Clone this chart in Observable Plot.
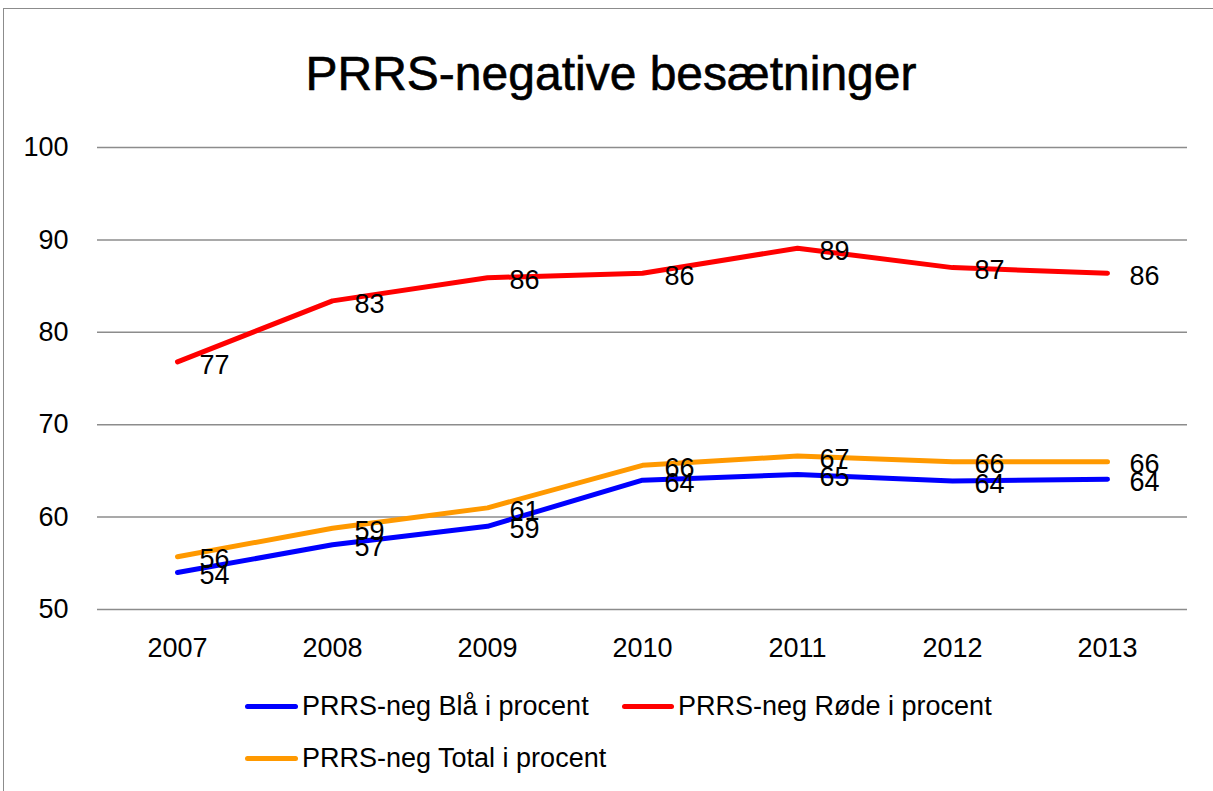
<!DOCTYPE html>
<html>
<head>
<meta charset="utf-8">
<script src="https://cdn.jsdelivr.net/npm/d3@7"></script>
<script src="https://cdn.jsdelivr.net/npm/@observablehq/plot@0.6"></script>
<style>
  html, body { margin: 0; padding: 0; background: #fff; }
  body { width: 1213px; height: 791px; overflow: hidden; position: relative; font-family: "Liberation Sans", Arial, sans-serif; }
  #frame { position: absolute; left: 3px; top: 8px; width: 1300px; height: 900px; border: 1.5px solid #8c8c8c; box-sizing: border-box; }
  #title { position: absolute; left: 0; width: 1222px; top: 46px; text-align: center; font-size: 48px; line-height: 56px; color: #000; -webkit-text-stroke: 0.6px #000; }
  #chart { position: absolute; left: 0; top: 0; }
  .leg { position: absolute; font-size: 27px; line-height: 32px; color: #000; white-space: nowrap; }
  .sw { position: absolute; height: 5px; border-radius: 3px; }
</style>
</head>
<body>
<div id="frame"></div>
<div id="chart"></div>
<div id="title">PRRS-negative besætninger</div>
<div id="legend"></div>
<script>
const years = ["2007", "2008", "2009", "2010", "2011", "2012", "2013"];
const blaa  = [54.0, 57.0, 59.0, 64.0, 64.6, 63.9, 64.1];
const roede = [76.8, 83.4, 85.9, 86.4, 89.1, 87.0, 86.4];
const total = [55.7, 58.8, 61.0, 65.6, 66.6, 66.0, 66.0];
const seriesNames = ["PRRS-neg Blå i procent", "PRRS-neg Røde i procent", "PRRS-neg Total i procent"];
const seriesColors = ["#0000ff", "#ff0000", "#ff9900"];
const yTicks = [50, 60, 70, 80, 90, 100];

const seriesValues = [blaa, roede, total];
const rows = [];
seriesValues.forEach((vals, s) => {
  vals.forEach((v, i) => rows.push({year: years[i], value: v, series: seriesNames[s]}));
});

const marks = [
  Plot.gridY(yTicks, {stroke: "#8c8c8c", strokeOpacity: 1, strokeWidth: 1.5}),
  Plot.axisY(yTicks, {tickSize: 0, tickPadding: 29, fontSize: 27, fill: "#000", label: null}),
  Plot.axisX(years, {tickSize: 0, tickPadding: 28, fontSize: 27, fill: "#000", label: null})
];
seriesNames.forEach((name, s) => {
  marks.push(Plot.line(rows.filter(d => d.series === name), {
    x: "year", y: "value", stroke: seriesColors[s], strokeWidth: 5,
    strokeLinecap: "round", strokeLinejoin: "round"
  }));
});
marks.push(Plot.text(rows, {
  x: "year", y: "value", text: d => d3.format(".0f")(d.value),
  textAnchor: "start", dx: 22, dy: 3, fontSize: 27, fill: "#000"
}));

const chart = Plot.plot({
  width: 1213,
  height: 680,
  marginLeft: 97,
  marginRight: 26,
  marginTop: 147,
  marginBottom: 71,
  style: {fontFamily: "Liberation Sans, Arial, sans-serif", background: "transparent", overflow: "visible"},
  x: {type: "point", domain: years, padding: 0.5},
  y: {domain: [50, 100]},
  marks
});
document.getElementById("chart").appendChild(chart);

// legend
const legendPos = [
  {sx: 245, tx: 302, y: 706},
  {sx: 622, tx: 678, y: 706},
  {sx: 245, tx: 302, y: 758}
];
const legend = document.getElementById("legend");
seriesNames.forEach((name, s) => {
  const p = legendPos[s];
  const sw = document.createElement("div");
  sw.className = "sw";
  sw.style.left = p.sx + "px";
  sw.style.top = (p.y - 2.5) + "px";
  sw.style.width = (p.tx - p.sx - 4) + "px";
  sw.style.background = seriesColors[s];
  legend.appendChild(sw);
  const t = document.createElement("div");
  t.className = "leg";
  t.style.left = p.tx + "px";
  t.style.top = (p.y - 16) + "px";
  t.textContent = name;
  legend.appendChild(t);
});
</script>
</body>
</html>
